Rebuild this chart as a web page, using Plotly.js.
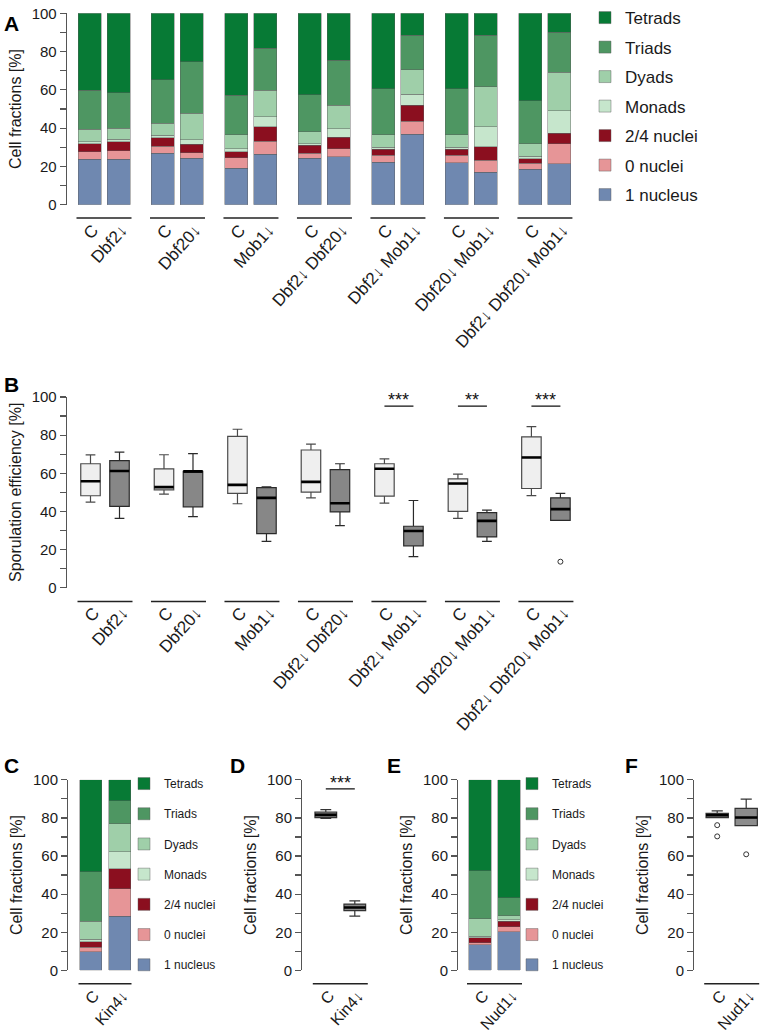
<!DOCTYPE html>
<html>
<head>
<meta charset="utf-8">
<script src="https://cdn.plot.ly/plotly-3.0.1.min.js"></script>
<style>html,body{margin:0;padding:0;background:#fff;}#chart{width:762px;height:1035px;}</style>
</head>
<body>
<div id="chart"></div>
<script>
// ---------- DATA ----------
const categories = ['1 nucleus','0 nuclei','2/4 nuclei','Monads','Dyads','Triads','Tetrads'];
const strainLabelsA = ['C','Dbf2↓','C','Dbf20↓','C','Mob1↓','C','Dbf2↓ Dbf20↓','C','Dbf2↓ Mob1↓','C','Dbf20↓ Mob1↓','C','Dbf2↓ Dbf20↓ Mob1↓'];

// Panel A: cell fractions (%) per strain, bottom to top
const oneNucleusA = [23.9, 23.7, 26.8, 24.4, 19.2, 26.3, 24.2, 25.1, 22.1, 36.9, 22.0, 17.0, 18.5, 21.5];
const zeroNucleiA = [3.8, 4.5, 3.8, 2.8, 5.5, 6.9, 2.8, 4.3, 3.9, 6.7, 3.9, 6.4, 3.1, 10.3];
const twoFourNucleiA = [4.3, 4.8, 4.4, 4.5, 3.0, 7.5, 4.0, 5.9, 3.1, 8.5, 3.0, 6.9, 2.4, 5.6];
const monadsA = [1.0, 1.3, 1.3, 2.4, 1.7, 5.3, 0.8, 4.3, 1.0, 5.7, 1.2, 10.5, 1.4, 11.7];
const dyadsA = [6.4, 5.8, 6.3, 13.8, 7.3, 13.7, 6.3, 12.3, 6.6, 12.8, 6.5, 20.8, 6.4, 20.1];
const triadsA = [20.3, 18.4, 22.8, 26.8, 20.4, 22.0, 19.3, 23.7, 23.9, 17.8, 24.0, 26.8, 22.4, 20.8];
const tetradsA = [40.3, 41.5, 34.6, 25.3, 42.9, 18.3, 42.6, 24.4, 39.4, 11.6, 39.4, 11.6, 45.8, 10.0];

// Panel B: sporulation efficiency box statistics (%)
const lowerB = [44.9, 36.3, 49.0, 37.2, 44.0, 24.3, 47.1, 32.5, 44.3, 16.3, 36.3, 24.3, 48.3, 35.3];
const q1B = [48.2, 42.6, 51.3, 42.4, 49.4, 28.3, 50.1, 39.7, 48.0, 21.9, 40.0, 26.6, 52.0, 35.3];
const medianB = [55.8, 61.2, 52.7, 61.0, 53.9, 47.1, 55.5, 44.3, 62.4, 29.7, 54.6, 35.0, 68.3, 41.2];
const q3B = [65.0, 66.6, 62.3, 61.0, 79.3, 52.5, 72.2, 61.9, 65.0, 32.2, 57.0, 39.3, 79.1, 47.1];
const upperB = [69.6, 71.1, 69.7, 70.3, 83.1, 52.9, 75.3, 65.0, 67.5, 45.7, 59.5, 40.7, 84.5, 49.4];
const outlierStrainB = [13];
const outlierValueB = [13.6];
const sigGroupsB = [4, 5, 6];
const sigTextB = ['***', '**', '***'];

// Panel C
const strainLabelsC = ['C', 'Kin4↓'];
const oneNucleusC = [9.9, 28.3];
const zeroNucleiC = [2.3, 14.5];
const twoFourNucleiC = [2.9, 10.4];
const monadsC = [1.1, 9.1];
const dyadsC = [9.7, 14.6];
const triadsC = [25.8, 12.0];
const tetradsC = [48.3, 11.1];

// Panel D
const lowerD = [79.7, 28.5];
const q1D = [80.2, 31.3];
const medianD = [81.6, 33.0];
const q3D = [83.1, 34.8];
const upperD = [84.3, 36.5];
const sigTextD = '***';

// Panel E
const strainLabelsE = ['C', 'Nud1↓'];
const oneNucleusE = [13.4, 20.3];
const zeroNucleiE = [1.2, 2.7];
const twoFourNucleiE = [2.4, 2.7];
const monadsE = [0.9, 0.9];
const dyadsE = [9.1, 2.1];
const triadsE = [25.3, 9.4];
const tetradsE = [47.7, 61.9];

// Panel F
const lowerF = [80.2, 76.0];
const q1F = [80.2, 76.0];
const medianF = [81.4, 80.2];
const q3F = [82.4, 85.0];
const upperF = [83.7, 89.9];
const outlierStrainF = [0, 0, 1];
const outlierValueF = [76.2, 70.3, 60.9];

// ---------- STYLE / LAYOUT HELPERS ----------
const colors = ['#6f88b0', '#e69597', '#8b0f1f', '#c6e6cc', '#9fcfa9', '#4e9662', '#077a35'];
const W = 762, H = 1035;
const px = v => v / W;
const py = v => 1 - v / H;
const UNIT = 29;      // pixels per x unit
const GAP = 2.534;    // group pitch in x units
const LABEL_SHIFT = 3.5 / UNIT;
const pos = i => Math.floor(i / 2) * GAP + (i % 2);
const idx = n => Array.from({length: n}, (_, i) => i);
const FONT = 'Liberation Sans, Arial, sans-serif';
// y-axis pixel extents (top = 100 %, bottom = 0 %)
const Y_A = [7.3, 200], Y_B = [393.3, 585], Y_CF = [778.3, 970];
const valToPaper = (v, ext) => py(ext[1] - v * (ext[1] - ext[0]) / 100);

const traces = [];
const shapes = [];
const annotations = [];

function addStack(series, xs, xa, ya, legendId, barW) {
  series.forEach((vals, k) => {
    traces.push({
      type: 'bar', x: xs, y: vals, name: categories[k],
      xaxis: xa, yaxis: ya, width: barW,
      marker: {color: colors[k], line: {color: 'rgba(90,90,90,0.55)', width: 0.8}},
      legend: legendId, legendgroup: legendId + k, legendrank: 100 - k, showlegend: true,
      hoverinfo: 'skip'
    });
  });
}

function addBoxes(xs, lo, q1, med, q3, hi, xa, ya, fill, lineCol, bw) {
  traces.push({
    type: 'box', x: xs, lowerfence: lo, q1: q1, median: med, q3: q3, upperfence: hi,
    xaxis: xa, yaxis: ya, width: bw, whiskerwidth: 0.5, boxpoints: false,
    fillcolor: fill, line: {color: lineCol, width: 1.2}, showlegend: false, hoverinfo: 'skip'
  });
  const mx = [], my = [];
  xs.forEach((x, i) => { mx.push(x - bw / 2, x + bw / 2, null); my.push(med[i], med[i], null); });
  traces.push({type: 'scatter', mode: 'lines', x: mx, y: my, xaxis: xa, yaxis: ya,
    line: {color: '#000', width: 2.6}, showlegend: false, hoverinfo: 'skip'});
}

function groupLines(n, xref, yPix, halfW) {
  for (let g = 0; g < n / 2; g++) {
    shapes.push({type: 'line', xref: xref, yref: 'paper',
      x0: pos(2 * g) - halfW, x1: pos(2 * g + 1) + halfW, y0: py(yPix), y1: py(yPix),
      line: {color: '#222', width: 1.4}});
  }
}

function sigMark(xref, yref, ext, x0, x1, text) {
  shapes.push({type: 'line', xref: xref, yref: yref, x0: x0, x1: x1, y0: 95.2, y1: 95.2, line: {color: '#111', width: 1.3}});
  annotations.push({xref: xref, yref: 'paper', x: (x0 + x1) / 2, y: valToPaper(98.2, ext), yanchor: 'middle',
    text: text, showarrow: false, font: {size: 18, family: FONT, color: '#111'}});
}

// ---------- PANEL A ----------
const xA = idx(14).map(pos);
addStack([oneNucleusA, zeroNucleiA, twoFourNucleiA, monadsA, dyadsA, triadsA, tetradsA], xA, 'x', 'y', 'legend', 23 / UNIT);
groupLines(14, 'x', 213.3, 13 / UNIT);

// ---------- PANEL B ----------
const lightIdx = idx(14).filter(i => i % 2 === 0);
const darkIdx = idx(14).filter(i => i % 2 === 1);
const pick = (arr, ids) => ids.map(i => arr[i]);
addBoxes(lightIdx.map(pos), pick(lowerB, lightIdx), pick(q1B, lightIdx), pick(medianB, lightIdx), pick(q3B, lightIdx), pick(upperB, lightIdx), 'x2', 'y2', '#efefef', '#4a4a4a', 19.5 / UNIT);
addBoxes(darkIdx.map(pos), pick(lowerB, darkIdx), pick(q1B, darkIdx), pick(medianB, darkIdx), pick(q3B, darkIdx), pick(upperB, darkIdx), 'x2', 'y2', '#878787', '#2a2a2a', 19.5 / UNIT);
traces.push({type: 'scatter', mode: 'markers', x: outlierStrainB.map(pos), y: outlierValueB, xaxis: 'x2', yaxis: 'y2',
  marker: {symbol: 'circle-open', size: 5, color: '#333', line: {width: 1}}, showlegend: false, hoverinfo: 'skip'});
groupLines(14, 'x2', 599, 13 / UNIT);
sigGroupsB.forEach((g, k) => sigMark('x2', 'y2', Y_B, pos(2 * g), pos(2 * g + 1), sigTextB[k]));

// ---------- PANEL C ----------
addStack([oneNucleusC, zeroNucleiC, twoFourNucleiC, monadsC, dyadsC, triadsC, tetradsC], [0, 1], 'x3', 'y3', 'legend2', 22 / UNIT);
groupLines(2, 'x3', 983.5, 12 / UNIT);

// ---------- PANEL D ----------
addBoxes([0, 1], lowerD, q1D, medianD, q3D, upperD, 'x4', 'y4', '#878787', '#333', 21.7 / UNIT);
groupLines(2, 'x4', 983.5, 13 / UNIT);
sigMark('x4', 'y4', Y_CF, 0, 1, sigTextD);

// ---------- PANEL E ----------
addStack([oneNucleusE, zeroNucleiE, twoFourNucleiE, monadsE, dyadsE, triadsE, tetradsE], [0, 1], 'x5', 'y5', 'legend3', 22.5 / UNIT);
groupLines(2, 'x5', 983.5, 13 / UNIT);

// ---------- PANEL F ----------
addBoxes([0, 1], lowerF, q1F, medianF, q3F, upperF, 'x6', 'y6', '#8c8c8c', '#333', 22.3 / UNIT);
traces.push({type: 'scatter', mode: 'markers', x: outlierStrainF, y: outlierValueF, xaxis: 'x6', yaxis: 'y6',
  marker: {symbol: 'circle-open', size: 5, color: '#333', line: {width: 1}}, showlegend: false, hoverinfo: 'skip'});
groupLines(2, 'x6', 983.5, 13 / UNIT);

// ---------- AXES ----------
const yTickVals = idx(11).map(i => i * 10);
const yTickText = yTickVals.map(v => (v % 20 === 0 ? String(v) : ''));
function yAxis(ext, title, anchor) {
  return {
    domain: [py(ext[1]), py(ext[0])], range: [0, 100], anchor: anchor,
    showline: true, linecolor: '#555', linewidth: 1.3, ticks: 'outside', ticklen: 6, tickwidth: 1.2, tickcolor: '#555',
    tickvals: yTickVals, ticktext: yTickText, tickfont: {size: 15, family: FONT, color: '#1a1a1a'},
    showgrid: false, zeroline: false, fixedrange: true,
    title: {text: title, font: {size: 16, family: FONT, color: '#1a1a1a'}, standoff: 6}
  };
}
function xAxis(axisPix, firstCenter, rightPix, labels, n, anchor, standoff, fsize) {
  return {
    domain: [px(axisPix), px(rightPix)],
    range: [-(firstCenter - axisPix) / UNIT, (rightPix - firstCenter) / UNIT], anchor: anchor,
    showline: false, showgrid: false, zeroline: false, ticks: '',
    tickvals: idx(n).map(i => pos(i) + LABEL_SHIFT), ticktext: labels, tickangle: -48,
    tickfont: {size: fsize, family: FONT, color: '#1a1a1a'}, ticklabelstandoff: standoff,
    ticklabeloverflow: 'allow', fixedrange: true
  };
}

const legendBase = {xanchor: 'left', yanchor: 'top', bgcolor: 'rgba(0,0,0,0)', traceorder: 'grouped', itemclick: false, itemdoubleclick: false};
const layout = {
  width: W, height: H, margin: {l: 0, r: 0, t: 0, b: 0},
  paper_bgcolor: '#fff', plot_bgcolor: 'rgba(0,0,0,0)',
  font: {family: FONT, color: '#1a1a1a'},
  barmode: 'stack', hovermode: false, showlegend: true,
  xaxis: xAxis(67, 89.5, 590, strainLabelsA, 14, 'y', 11, 17),
  yaxis: yAxis(Y_A, 'Cell fractions [%]', 'x'),
  xaxis2: xAxis(67, 90.5, 590, strainLabelsA, 14, 'y2', 11, 17),
  yaxis2: yAxis(Y_B, 'Sporulation efficiency [%]', 'x2'),
  xaxis3: xAxis(68.3, 90.5, 140, strainLabelsC, 2, 'y3', 12, 16),
  yaxis3: yAxis(Y_CF, 'Cell fractions [%]', 'x3'),
  xaxis4: xAxis(302.3, 325.8, 372, strainLabelsC, 2, 'y4', 12, 16),
  yaxis4: yAxis(Y_CF, 'Cell fractions [%]', 'x4'),
  xaxis5: xAxis(458.3, 480, 530, strainLabelsE, 2, 'y5', 12, 16),
  yaxis5: yAxis(Y_CF, 'Cell fractions [%]', 'x5'),
  xaxis6: xAxis(694.3, 717.2, 760, strainLabelsE, 2, 'y6', 12, 16),
  yaxis6: yAxis(Y_CF, 'Cell fractions [%]', 'x6'),
  legend: Object.assign({x: px(585), y: py(-6), font: {size: 17, family: FONT, color: '#1a1a1a'}, tracegroupgap: 4.4}, legendBase),
  legend2: Object.assign({x: px(124), y: py(767.5), font: {size: 12, family: FONT, color: '#1a1a1a'}, tracegroupgap: 11.2}, legendBase),
  legend3: Object.assign({x: px(512), y: py(767.5), font: {size: 12, family: FONT, color: '#1a1a1a'}, tracegroupgap: 11.2}, legendBase),
  shapes: shapes,
  annotations: annotations.concat([
    {text: '<b>A</b>', x: px(2), y: py(4), xref: 'paper', yref: 'paper', xanchor: 'left', yanchor: 'top', showarrow: false, font: {size: 21, family: FONT, color: '#000'}},
    {text: '<b>B</b>', x: px(2), y: py(367), xref: 'paper', yref: 'paper', xanchor: 'left', yanchor: 'top', showarrow: false, font: {size: 21, family: FONT, color: '#000'}},
    {text: '<b>C</b>', x: px(2), y: py(750), xref: 'paper', yref: 'paper', xanchor: 'left', yanchor: 'top', showarrow: false, font: {size: 21, family: FONT, color: '#000'}},
    {text: '<b>D</b>', x: px(228), y: py(750), xref: 'paper', yref: 'paper', xanchor: 'left', yanchor: 'top', showarrow: false, font: {size: 21, family: FONT, color: '#000'}},
    {text: '<b>E</b>', x: px(385), y: py(750), xref: 'paper', yref: 'paper', xanchor: 'left', yanchor: 'top', showarrow: false, font: {size: 21, family: FONT, color: '#000'}},
    {text: '<b>F</b>', x: px(623), y: py(750), xref: 'paper', yref: 'paper', xanchor: 'left', yanchor: 'top', showarrow: false, font: {size: 21, family: FONT, color: '#000'}}
  ])
};

Plotly.newPlot('chart', traces, layout, {displayModeBar: false, staticPlot: true});
</script>
</body>
</html>
